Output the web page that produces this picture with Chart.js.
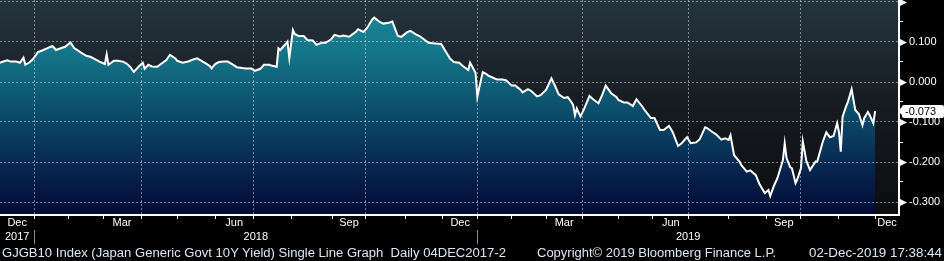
<!DOCTYPE html>
<html>
<head>
<meta charset="utf-8">
<title>GJGB10 Index</title>
<script src="https://cdn.jsdelivr.net/npm/chart.js@4.4.0/dist/chart.umd.min.js"></script>
<style>
  html, body { margin: 0; padding: 0; background: #000; }
  #wrap { position: relative; width: 944px; height: 261px; overflow: hidden; }
  canvas { display: block; }
  .foot { position: absolute; top: 245px; color: #dde8f4; font: 12.5px "Liberation Sans", Arial, sans-serif; white-space: pre; line-height: 16px; transform-origin: 0 0; }
  #last { position: absolute; left: 902px; width: 42px; height: 13px; background: #fff; color: #000; font: 11px "Liberation Sans", Arial, sans-serif; line-height: 13px; border-radius: 2px; padding-left: 3px; box-sizing: border-box; }
  #last:before { content: ""; position: absolute; left: -4px; top: 2px; border-style: solid; border-width: 4.5px 4px 4.5px 0; border-color: transparent #fff transparent transparent; }
</style>
</head>
<body>
<div id="wrap">
  <canvas id="chart" width="944" height="261"></canvas>
  <div class="foot" style="left:2px" data-w="504">GJGB10 Index (Japan Generic Govt 10Y Yield) Single Line Graph  Daily 04DEC2017-2</div>
  <div class="foot" style="left:537px" data-w="239">Copyright© 2019 Bloomberg Finance L.P.</div>
  <div class="foot" style="left:809px" data-w="133">02-Dec-2019 17:38:44</div>
  <div id="last"></div>
</div>
<script>
const dates = [
  '2017-12-04','2017-12-05','2017-12-08','2017-12-12','2017-12-15','2017-12-19','2017-12-21','2017-12-22','2017-12-26','2017-12-28',
  '2018-01-05','2018-01-09','2018-01-12','2018-01-16','2018-01-19','2018-01-23','2018-01-26','2018-01-30','2018-02-02','2018-02-06',
  '2018-02-09','2018-02-13','2018-02-16','2018-02-20','2018-02-23','2018-02-27','2018-03-02','2018-03-05','2018-03-06','2018-03-09',
  '2018-03-13','2018-03-16','2018-03-20','2018-03-23','2018-03-27','2018-03-30','2018-04-03','2018-04-04','2018-04-06','2018-04-10',
  '2018-04-13','2018-04-17','2018-04-20','2018-04-24','2018-04-27','2018-05-01','2018-05-08','2018-05-11','2018-05-15','2018-05-18',
  '2018-05-22','2018-05-25','2018-05-29','2018-05-30','2018-06-01','2018-06-05','2018-06-08','2018-06-12','2018-06-15','2018-06-19',
  '2018-06-22','2018-06-26','2018-06-29','2018-07-03','2018-07-06','2018-07-10','2018-07-13','2018-07-17','2018-07-20','2018-07-23',
  '2018-07-24','2018-07-27','2018-07-30','2018-07-31','2018-08-02','2018-08-03','2018-08-07','2018-08-10','2018-08-14','2018-08-17',
  '2018-08-21','2018-08-24','2018-08-28','2018-08-31','2018-09-04','2018-09-07','2018-09-11','2018-09-14','2018-09-18','2018-09-21',
  '2018-09-25','2018-09-28','2018-10-02','2018-10-04','2018-10-05','2018-10-09','2018-10-12','2018-10-16','2018-10-19','2018-10-23',
  '2018-10-26','2018-10-30','2018-11-02','2018-11-06','2018-11-09','2018-11-13','2018-11-16','2018-11-20','2018-11-22','2018-11-27',
  '2018-11-30','2018-12-04','2018-12-07','2018-12-11','2018-12-14','2018-12-18','2018-12-21','2018-12-25','2018-12-28','2019-01-04',
  '2019-01-07','2019-01-09','2019-01-11','2019-01-15','2019-01-18','2019-01-22','2019-01-25','2019-01-29','2019-02-01','2019-02-05',
  '2019-02-08','2019-02-12','2019-02-15','2019-02-19','2019-02-22','2019-02-26','2019-03-01','2019-03-04','2019-03-06','2019-03-08',
  '2019-03-12','2019-03-15','2019-03-19','2019-03-22','2019-03-25','2019-03-26','2019-03-27','2019-03-29','2019-04-02','2019-04-05',
  '2019-04-09','2019-04-12','2019-04-16','2019-04-18','2019-04-23','2019-04-26','2019-05-07','2019-05-10','2019-05-14','2019-05-17',
  '2019-05-21','2019-05-24','2019-05-28','2019-05-31','2019-06-04','2019-06-07','2019-06-11','2019-06-14','2019-06-18','2019-06-21',
  '2019-06-25','2019-06-28','2019-07-02','2019-07-05','2019-07-09','2019-07-12','2019-07-16','2019-07-19','2019-07-23','2019-07-26',
  '2019-07-30','2019-08-01','2019-08-02','2019-08-06','2019-08-09','2019-08-13','2019-08-16','2019-08-20','2019-08-23','2019-08-27',
  '2019-08-30','2019-09-03','2019-09-04','2019-09-06','2019-09-10','2019-09-13','2019-09-17','2019-09-18','2019-09-20','2019-09-24',
  '2019-09-26','2019-09-27','2019-10-01','2019-10-02','2019-10-04','2019-10-08','2019-10-11','2019-10-15','2019-10-18','2019-10-23',
  '2019-10-25','2019-10-29','2019-10-31','2019-11-01','2019-11-05','2019-11-06','2019-11-08','2019-11-11','2019-11-13','2019-11-15',
  '2019-11-19','2019-11-21','2019-11-22','2019-11-26','2019-11-27','2019-11-29','2019-12-02'
];
const yields = [
  0.048, 0.050, 0.054, 0.051, 0.051, 0.048, 0.061, 0.043, 0.048, 0.056,
  0.068, 0.075, 0.080, 0.084, 0.090, 0.080, 0.085, 0.088, 0.099, 0.085,
  0.076, 0.073, 0.065, 0.063, 0.056, 0.051, 0.045, 0.069, 0.043, 0.053,
  0.053, 0.051, 0.046, 0.038, 0.025, 0.040, 0.048, 0.033, 0.043, 0.039,
  0.038, 0.045, 0.055, 0.068, 0.059, 0.053, 0.048, 0.051, 0.055, 0.059,
  0.054, 0.046, 0.040, 0.034, 0.045, 0.050, 0.051, 0.051, 0.043, 0.037,
  0.035, 0.034, 0.034, 0.028, 0.033, 0.043, 0.043, 0.041, 0.038, 0.084,
  0.080, 0.095, 0.101, 0.060, 0.130, 0.120, 0.115, 0.115, 0.105, 0.104,
  0.093, 0.098, 0.098, 0.106, 0.118, 0.114, 0.116, 0.113, 0.116, 0.126,
  0.132, 0.125, 0.135, 0.150, 0.157, 0.161, 0.150, 0.146, 0.148, 0.151,
  0.115, 0.113, 0.124, 0.128, 0.119, 0.115, 0.105, 0.098, 0.097, 0.096,
  0.095, 0.080, 0.058, 0.050, 0.048, 0.040, 0.030, 0.048, 0.023, -0.037,
  -0.015, 0.025, 0.020, 0.016, 0.010, 0.006, 0.006, 0.004, -0.009, -0.009,
  -0.020, -0.026, -0.018, -0.023, -0.036, -0.033, -0.020, -0.010, 0.009, -0.010,
  -0.031, -0.040, -0.038, -0.050, -0.058, -0.083, -0.066, -0.086, -0.068, -0.035,
  -0.043, -0.053, -0.033, -0.009, -0.028, -0.038, -0.045, -0.051, -0.051, -0.060,
  -0.043, -0.060, -0.073, -0.090, -0.090, -0.120, -0.120, -0.110, -0.125, -0.160,
  -0.153, -0.138, -0.153, -0.151, -0.143, -0.113, -0.115, -0.125, -0.131, -0.144,
  -0.141, -0.145, -0.133, -0.183, -0.199, -0.208, -0.224, -0.221, -0.233, -0.255,
  -0.278, -0.270, -0.285, -0.260, -0.240, -0.195, -0.153, -0.190, -0.213, -0.216,
  -0.253, -0.243, -0.215, -0.149, -0.198, -0.220, -0.199, -0.199, -0.150, -0.126,
  -0.138, -0.135, -0.103, -0.125, -0.174, -0.087, -0.060, -0.049, -0.018, -0.070,
  -0.080, -0.108, -0.090, -0.075, -0.083, -0.103, -0.073
];

// Tokyo market closures, the axis runs on trading days
const holidays = [
  '2017-12-29','2018-01-01','2018-01-02','2018-01-03','2018-01-08','2018-02-12','2018-03-21','2018-04-30',
  '2018-05-03','2018-05-04','2018-07-16','2018-09-17','2018-09-24','2018-10-08','2018-11-23','2018-12-24',
  '2018-12-31','2019-01-01','2019-01-02','2019-01-03','2019-01-14','2019-02-11','2019-03-21','2019-04-29',
  '2019-04-30','2019-05-01','2019-05-02','2019-05-03','2019-05-06','2019-07-15','2019-08-12','2019-09-16',
  '2019-09-23','2019-10-14','2019-10-22','2019-11-04','2019-12-31'
];

// axis labelling
const labelMonths = ['2017-12','2018-03','2018-06','2018-09','2018-12','2019-03','2019-06','2019-09','2019-12'];
const monthLabels = ['Dec','Mar','Jun','Sep','Dec','Mar','Jun','Sep','Dec'];
const years = ['2017','2018','2019'];
const yTickValues = [0.20, 0.15, 0.10, 0.05, 0.00, -0.05, -0.10, -0.15, -0.20, -0.25, -0.30];
const yMajor = [0.20, 0.10, 0.00, -0.10, -0.20, -0.30];

const START = '2017-12-04';
const X_MAX = 497.2;
const Y_MIN = -0.3325, Y_MAX = 0.205;
const DAY = 86400000;
const holidaySet = new Set(holidays);

// number of trading days before the date
function tradingIndex(d) {
  const end = Date.parse(d + 'T00:00:00Z');
  let n = 0;
  for (let t = Date.parse(START + 'T00:00:00Z'); t < end; t += DAY) {
    const dt = new Date(t);
    const wd = dt.getUTCDay();
    if (wd === 0 || wd === 6) continue;
    if (holidaySet.has(dt.toISOString().slice(0, 10))) continue;
    n++;
  }
  return n;
}
const pad = (n) => (n < 10 ? '0' + n : '' + n);
const nextMonth = (ym) => {
  let [y, m] = ym.split('-').map(Number);
  m++;
  if (m > 12) { m = 1; y++; }
  return y + '-' + pad(m);
};
const span = (a, b) => (Math.max(a, 0) + Math.min(b, X_MAX)) / 2;

// x ticks: month starts (tick marks, quarter grid) + mid-month labels
const xMarks = [];
for (let y = 2018; y <= 2019; y++) {
  for (let m = 1; m <= 12; m++) {
    xMarks.push({ value: tradingIndex(y + '-' + pad(m) + '-01'), grid: (m - 1) % 3 === 0, mark: true, text: '' });
  }
}
labelMonths.forEach((ym, i) => {
  const a = tradingIndex(ym + '-01');
  const b = tradingIndex(nextMonth(ym) + '-01');
  xMarks.push({ value: span(a, b), grid: false, mark: false, text: monthLabels[i] });
});
xMarks.sort((p, q) => p.value - q.value);

// year row: labels centred on the visible part of each year, separators at Jan 1
const yearMarks = [];
years.forEach((yr, i) => {
  const a = tradingIndex(yr + '-01-01');
  const b = tradingIndex((+yr + 1) + '-01-01');
  yearMarks.push({ value: span(a, b), sep: false, text: yr });
  if (i > 0) yearMarks.push({ value: a, sep: true, text: '' });
});
yearMarks.sort((p, q) => p.value - q.value);

const points = dates.map((d, i) => ({ x: tradingIndex(d), y: yields[i] }));

Chart.defaults.font.family = '"Liberation Sans", Arial, sans-serif';
Chart.defaults.font.size = 11;

const GRID = 'rgba(255,255,255,0.45)';
const isMajor = (v) => yMajor.some((m) => Math.abs(m - v) < 1e-6);

const bgPlugin = {
  id: 'bg',
  beforeDraw(chart) {
    const { ctx, chartArea: a } = chart;
    ctx.save();
    ctx.fillStyle = '#000';
    ctx.fillRect(0, 0, chart.width, chart.height);
    const g = ctx.createLinearGradient(0, a.top, 0, a.bottom);
    g.addColorStop(0, '#25343f');
    g.addColorStop(0.5, '#161b20');
    g.addColorStop(1, '#0c0d0f');
    ctx.fillStyle = g;
    ctx.fillRect(a.left, a.top, a.right - a.left, a.bottom - a.top);
    ctx.restore();
  },
  afterDraw(chart) {
    const s = chart.scales.y;
    const ctx = chart.ctx;
    ctx.save();
    ctx.fillStyle = '#fff';
    yMajor.forEach((v) => {
      const py = Math.round(s.getPixelForValue(v)) + 0.5;
      ctx.beginPath();
      ctx.moveTo(s.left + 1, py - 3.5);
      ctx.lineTo(s.left + 8, py);
      ctx.lineTo(s.left + 1, py + 3.5);
      ctx.closePath();
      ctx.fill();
    });
    ctx.restore();
  }
};

const noPad = (s) => { s.paddingLeft = 0; s.paddingRight = 0; s.paddingTop = 0; s.paddingBottom = 0; };

const chart = new Chart(document.getElementById('chart').getContext('2d'), {
  type: 'line',
  data: {
    datasets: [{
      data: points,
      borderColor: '#ffffff',
      borderWidth: 2,
      pointRadius: 0,
      tension: 0,
      fill: 'start',
      backgroundColor: (c) => {
        const a = c.chart.chartArea;
        if (!a) return '#0d4868';
        const g = c.chart.ctx.createLinearGradient(0, a.top, 0, a.bottom);
        g.addColorStop(0, '#1a8c9c');
        g.addColorStop(0.25, '#147588');
        g.addColorStop(0.55, '#0b4868');
        g.addColorStop(0.8, '#06234e');
        g.addColorStop(1, '#030a35');
        return g;
      }
    }]
  },
  options: {
    responsive: false,
    animation: false,
    events: [],
    layout: { padding: { left: 0, right: 0, top: 0, bottom: 15 } },
    plugins: { legend: { display: false }, tooltip: { enabled: false } },
    scales: {
      x: {
        type: 'linear',
        position: 'bottom',
        weight: 0,
        min: 0,
        max: X_MAX,
        afterBuildTicks: (s) => { s.ticks = xMarks.map((t) => ({ value: t.value })); },
        afterFit: (s) => { s.height = 15; noPad(s); },
        grid: {
          z: 1,
          color: (c) => (xMarks[c.index] && xMarks[c.index].grid ? GRID : 'rgba(0,0,0,0)'),
          tickColor: (c) => (xMarks[c.index] && xMarks[c.index].mark ? '#ffffff' : 'rgba(0,0,0,0)'),
          tickLength: 4,
          lineWidth: 1
        },
        border: { display: true, color: '#ffffff', width: 2, dash: [2, 2], z: 2 },
        ticks: {
          autoSkip: false,
          maxRotation: 0,
          minRotation: 0,
          padding: -3,
          color: '#ffffff',
          callback: (v, i) => (xMarks[i] ? xMarks[i].text : '')
        }
      },
      xy: {
        type: 'linear',
        position: 'bottom',
        weight: 1,
        min: 0,
        max: X_MAX,
        afterBuildTicks: (s) => { s.ticks = yearMarks.map((t) => ({ value: t.value })); },
        afterFit: (s) => { s.height = 16; noPad(s); },
        grid: {
          drawOnChartArea: false,
          color: (c) => (yearMarks[c.index] && yearMarks[c.index].sep ? '#8f8f8f' : 'rgba(0,0,0,0)'),
          tickColor: (c) => (yearMarks[c.index] && yearMarks[c.index].sep ? '#8f8f8f' : 'rgba(0,0,0,0)'),
          tickLength: 14
        },
        border: { display: false },
        ticks: {
          autoSkip: false,
          maxRotation: 0,
          minRotation: 0,
          padding: -14,
          color: '#ffffff',
          callback: (v, i) => (yearMarks[i] ? yearMarks[i].text : '')
        }
      },
      y: {
        type: 'linear',
        position: 'right',
        min: Y_MIN,
        max: Y_MAX,
        afterBuildTicks: (s) => { s.ticks = yTickValues.map((v) => ({ value: v })); },
        afterFit: (s) => { s.width = 45; noPad(s); },
        grid: {
          z: 1,
          color: (c) => (c.tick && isMajor(c.tick.value) ? GRID : 'rgba(0,0,0,0)'),
          tickColor: '#ffffff',
          tickLength: 4,
          lineWidth: 1
        },
        border: { display: true, color: '#ffffff', width: 2, dash: [2, 2], z: 2 },
        ticks: {
          padding: 6,
          color: '#ffffff',
          font: { size: 11 },
          callback: (v) => {
            const r = Math.round(v * 1000) / 1000;
            if (!isMajor(r) || r > 0.15) return '';
            return (r === 0 ? 0 : r).toFixed(3);
          }
        }
      }
    }
  },
  plugins: [bgPlugin]
});

// last value box on the right axis
const lastVal = yields[yields.length - 1];
const lastEl = document.getElementById('last');
lastEl.textContent = lastVal.toFixed(3);
lastEl.style.top = (chart.scales.y.getPixelForValue(lastVal) - 6.5) + 'px';

// squeeze footer strings to the reference widths
document.querySelectorAll('.foot').forEach((el) => {
  const w = el.getBoundingClientRect().width;
  if (w > 0) el.style.transform = 'scaleX(' + (Number(el.dataset.w) / w) + ')';
});
</script>
</body>
</html>
